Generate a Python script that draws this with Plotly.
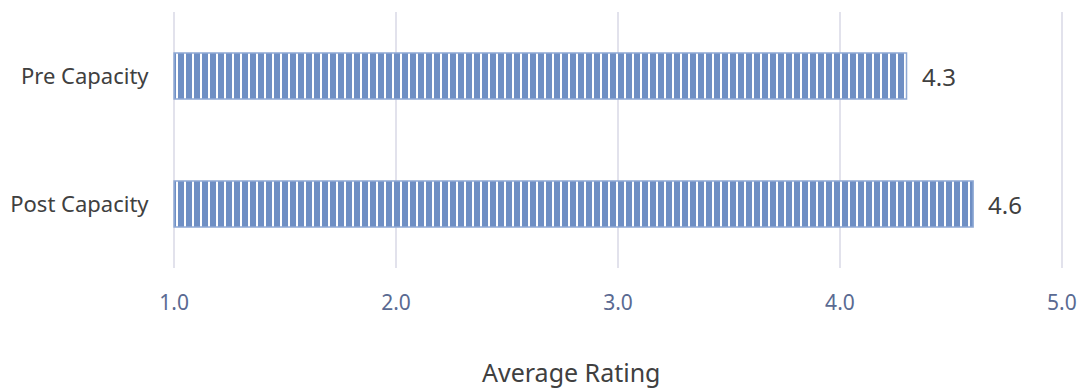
import plotly.graph_objects as go

# Average rating before and after the capacity change
categories = ["Post Capacity", "Pre Capacity"]
ratings = [4.6, 4.3]
tick_values = [1, 2, 3, 4, 5]
tick_labels = ["1.0", "2.0", "3.0", "4.0", "5.0"]
axis_title = "Average Rating"

bar_blue = "#6f8fc4"
axis_start = 1

fig = go.Figure(
    go.Bar(
        x=[r - axis_start for r in ratings],
        y=categories,
        orientation="h",
        base=axis_start,
        width=0.36,
        marker=dict(
            color=bar_blue,
            line=dict(color="#8ea8d4", width=1.5),
            pattern=dict(
                shape="|",
                fgcolor="white",
                bgcolor=bar_blue,
                size=8,
                solidity=0.25,
                fillmode="replace",
            ),
        ),
        hoverinfo="skip",
    )
)

# value labels just past the end of each bar
for cat, val in zip(categories, ratings):
    fig.add_annotation(
        x=val,
        y=cat,
        text=f"{val:.1f}",
        showarrow=False,
        xanchor="left",
        xshift=13,
        font=dict(size=24, color="#404040", family="Noto Sans"),
    )

# axis title, placed as a free annotation below the tick labels
fig.add_annotation(
    xref="paper",
    yref="paper",
    x=0.447,
    y=-0.408,
    xanchor="center",
    yanchor="middle",
    text=axis_title,
    showarrow=False,
    font=dict(size=25, color="#404040", family="Noto Sans"),
)

fig.update_layout(
    width=1080,
    height=391,
    margin=dict(l=173, r=17, t=12, b=123),
    plot_bgcolor="white",
    paper_bgcolor="white",
    showlegend=False,
    font=dict(family="Noto Sans"),
    xaxis=dict(
        range=[0.995, 5.005],
        automargin=False,
        tickvals=tick_values,
        ticktext=tick_labels,
        showgrid=True,
        gridcolor="#e2e2ec",
        gridwidth=1.5,
        zeroline=False,
        showline=False,
        ticks="outside",
        ticklen=16,
        tickcolor="rgba(0,0,0,0)",
        tickfont=dict(size=21, color="#5a6a92"),
    ),
    yaxis=dict(
        automargin=False,
        categoryorder="array",
        categoryarray=categories,
        showgrid=False,
        zeroline=False,
        showline=False,
        ticks="outside",
        ticklen=19,
        tickcolor="rgba(0,0,0,0)",
        tickfont=dict(size=22, color="#404040"),
    ),
)

fig.write_html("out.html")
